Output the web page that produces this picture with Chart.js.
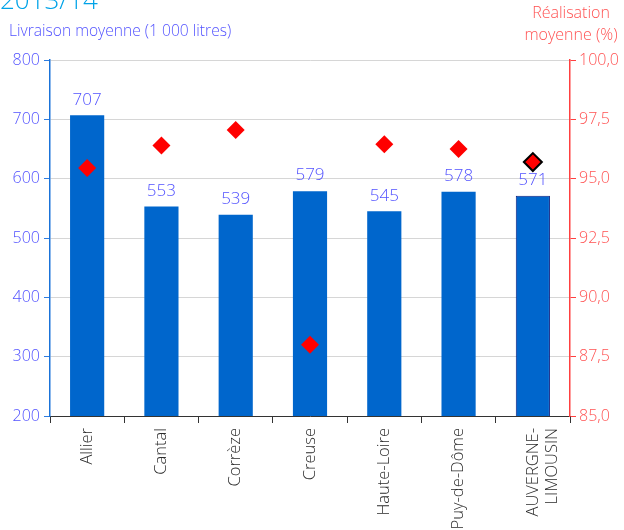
<!DOCTYPE html>
<html>
<head>
<meta charset="utf-8">
<script src="https://cdn.jsdelivr.net/npm/chart.js@4/dist/chart.umd.min.js"></script>
<style>
  html, body { margin: 0; padding: 0; background: #fff; }
  #wrap { width: 624px; height: 530px; position: relative; }
</style>
</head>
<body>
<div id="wrap"><canvas id="livraisonChart"></canvas></div>
<script>
var departements = ['Allier', 'Cantal', 'Corrèze', 'Creuse', 'Haute-Loire', 'Puy-de-Dôme', ['AUVERGNE-', 'LIMOUSIN']];
var livraisons = [707, 553, 539, 579, 545, 578, 571];
var realisations = [95.45, 96.4, 97.05, 88.0, 96.45, 96.25, 95.7];
var livraisonTicks = [200, 300, 400, 500, 600, 700, 800];
var realisationTicks = [85, 87.5, 90, 92.5, 95, 97.5, 100];

var FONT = "'Open Sans', 'DejaVu Sans', sans-serif";
var BLUE_TEXT = '#5252ff';
var RED_TEXT = '#ff5252';

// captions and value labels drawn straight on the canvas
var annotations = {
  id: 'annotations',
  afterDatasetsDraw: function(chart) {
    var ctx = chart.ctx;
    ctx.save();
    var meta = chart.getDatasetMeta(0);
    ctx.font = '300 17px ' + FONT;
    ctx.fillStyle = BLUE_TEXT;
    ctx.textAlign = 'center';
    ctx.textBaseline = 'bottom';
    meta.data.forEach(function(bar, i) {
      ctx.fillText(String(livraisons[i]), bar.x, bar.y - 7);
    });
    ctx.restore();
  },
  afterDraw: function(chart) {
    var ctx = chart.ctx;
    ctx.save();
    ctx.font = '300 26px ' + FONT;
    ctx.fillStyle = '#00a3e8';
    ctx.textAlign = 'left';
    ctx.textBaseline = 'alphabetic';
    ctx.fillText('2013/14', 0, 9);

    ctx.font = '300 15.6px ' + FONT;
    ctx.fillStyle = BLUE_TEXT;
    ctx.textBaseline = 'middle';
    ctx.fillText('Livraison moyenne (1 000 litres)', 9, 32);

    ctx.font = '300 16px ' + FONT;
    ctx.fillStyle = RED_TEXT;
    ctx.textAlign = 'center';
    ctx.fillText('Réalisation', 571, 13);
    ctx.fillText('moyenne (%)', 571, 35);
    ctx.restore();
  }
};

new Chart(document.getElementById('livraisonChart'), {
  type: 'bar',
  data: {
    labels: departements,
    datasets: [{
      label: 'Livraison moyenne',
      data: livraisons,
      backgroundColor: '#0066cc',
      borderColor: ['#0066cc', '#0066cc', '#0066cc', '#0066cc', '#0066cc', '#0066cc', '#0a1f80'],
      borderWidth: [0, 0, 0, 0, 0, 0, 1],
      barPercentage: 0.46,
      categoryPercentage: 1,
      yAxisID: 'y',
      order: 2
    }, {
      type: 'line',
      label: 'Réalisation moyenne',
      data: realisations,
      showLine: false,
      pointStyle: 'rectRot',
      pointRadius: 9,
      pointHoverRadius: 9,
      backgroundColor: '#ff0000',
      borderColor: ['#ff0000', '#ff0000', '#ff0000', '#ff0000', '#ff0000', '#ff0000', '#000000'],
      pointBorderWidth: [0, 0, 0, 0, 0, 0, 2],
      yAxisID: 'y1',
      order: 1
    }]
  },
  options: {
    responsive: true,
    maintainAspectRatio: false,
    animation: false,
    layout: { padding: { top: 60, left: 0, right: 0, bottom: 0 } },
    plugins: {
      legend: { display: false },
      tooltip: { enabled: false }
    },
    scales: {
      x: {
        offset: true,
        grid: { drawOnChartArea: false, drawTicks: true, tickLength: 7, color: '#333', offset: true },
        border: { color: '#333', width: 1 },
        ticks: {
          color: '#2a2a2a',
          font: { family: FONT, size: 16.5, weight: '300' },
          minRotation: 90,
          maxRotation: 90,
          autoSkip: false,
          padding: 5
        },
        afterFit: function(scale) { scale.height = 114; }
      },
      y: {
        position: 'left',
        min: 200,
        max: 800,
        afterBuildTicks: function(scale) {
          scale.ticks = livraisonTicks.map(function(v) { return { value: v }; });
        },
        grid: { color: '#d6d6d6', tickColor: '#2f7de0', tickLength: 6 },
        border: { color: '#1a73d9', width: 1.5 },
        ticks: {
          color: BLUE_TEXT,
          font: { family: FONT, size: 16, weight: '300' },
          padding: 4
        },
        afterFit: function(scale) { scale.width = 50; }
      },
      y1: {
        position: 'right',
        min: 85,
        max: 100,
        afterBuildTicks: function(scale) {
          scale.ticks = realisationTicks.map(function(v) { return { value: v }; });
        },
        grid: { drawOnChartArea: false, tickColor: '#ff4040', tickLength: 6 },
        border: { color: '#ff4040', width: 1.5 },
        ticks: {
          color: RED_TEXT,
          font: { family: FONT, size: 16, weight: '300' },
          padding: 3,
          callback: function(v) { return v.toFixed(1).replace('.', ','); }
        },
        afterFit: function(scale) { scale.width = 54; }
      }
    }
  },
  plugins: [annotations]
});
</script>
</body>
</html>
